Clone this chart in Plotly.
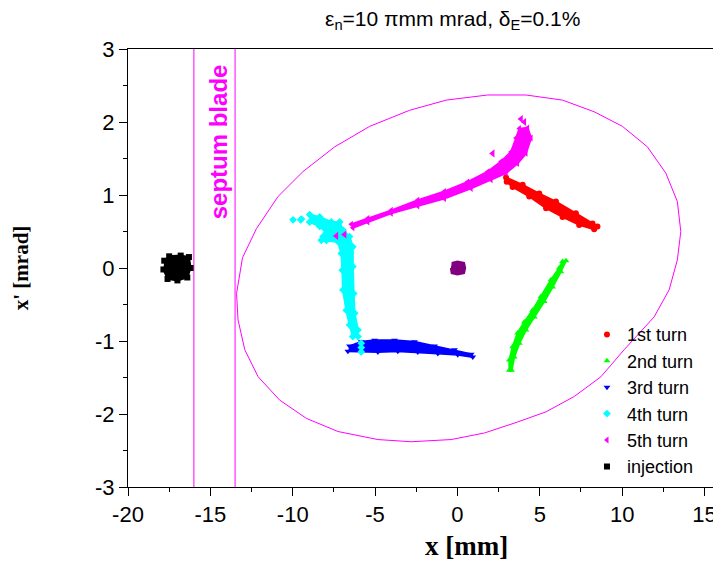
import plotly.graph_objects as go

# ---------------- data ----------------
X_TICKS = [-20, -15, -10, -5, 0, 5, 10, 15]
X_TICK_LABELS = ["-20", "-15", "-10", "-5", "0", "5", "10", "15"]
Y_TICKS = [-3, -2, -1, 0, 1, 2, 3]
Y_TICK_LABELS = ["-3", "-2", "-1", "0", "1", "2", "3"]

SEPTUM_X = [-16.0, -13.5]

# acceptance ellipse vertices (polygon as drawn)
ACCEPT_X = [1.84, 4.16, 6.38, 8.30, 10.02, 11.53, 12.65, 13.35, 13.56, 13.35, 12.85, 11.94,
            10.12, 8.71, 7.09, 5.38, 3.65, 1.64, -0.38, -2.81, -4.83, -7.25, -9.17, -10.79,
            -12.10, -12.91, -13.32, -13.41, -13.05, -12.20, -10.89, -9.38, -7.45, -5.33,
            -2.91, -0.68, 1.84]
ACCEPT_Y = [2.37, 2.37, 2.30, 2.14, 1.94, 1.66, 1.30, 0.91, 0.50, 0.11, -0.30, -0.67,
            -1.12, -1.49, -1.76, -1.97, -2.11, -2.26, -2.35, -2.38, -2.35, -2.24, -2.06, -1.81,
            -1.49, -1.12, -0.71, -0.35, 0.14, 0.54, 0.98, 1.32, 1.66, 1.94,
            2.16, 2.30, 2.37]

# outlines of the particle clouds of each turn
TURN1_X = [2.95, 3.96, 4.97, 5.98, 7.19, 8.20, 8.50, 8.30, 7.39, 6.38, 5.38, 4.36, 3.35, 2.99]
TURN1_Y = [1.24, 1.14, 1.02, 0.91, 0.75, 0.61, 0.57, 0.53, 0.59, 0.70, 0.82, 0.98, 1.11, 1.18]

TURN2_X = [6.59, 6.28, 5.78, 5.27, 4.67, 4.16, 3.76, 3.45, 3.29, 3.15, 3.15, 3.35, 3.65, 4.06,
           4.56, 5.07, 5.68, 6.18, 6.38]
TURN2_Y = [0.10, -0.05, -0.26, -0.46, -0.67, -0.85, -1.03, -1.22, -1.40, -1.40, -1.26, -1.08,
           -0.89, -0.74, -0.58, -0.39, -0.16, 0.00, 0.09]

TURN3_X = [-6.55, -5.84, -5.03, -3.82, -2.61, -1.39, -0.18, 0.83, 0.93, 0.02, -1.19, -2.41,
           -3.62, -4.83, -5.84, -6.65]
TURN3_Y = [-1.07, -1.01, -0.99, -0.99, -1.01, -1.07, -1.12, -1.18, -1.22, -1.19, -1.17, -1.15,
           -1.14, -1.15, -1.15, -1.14]

TURN4_X = [-8.97, -8.36, -7.65, -7.15, -6.95, -6.55, -6.35, -6.35, -6.30, -6.24, -6.04, -6.04,
           -6.35, -6.55, -6.75, -6.95, -6.99, -7.05, -7.25, -7.96, -8.26, -8.16, -7.96, -8.36, -8.97]
TURN4_Y = [0.73, 0.70, 0.63, 0.63, 0.52, 0.43, 0.29, 0.02, -0.35, -0.62, -0.85, -0.94,
           -0.94, -0.78, -0.58, -0.30, -0.03, 0.20, 0.36, 0.38, 0.38, 0.43, 0.48, 0.57, 0.63]
TURN4_STRAY_X = [-9.98, -9.52, -9.47, -5.84, -5.84, -5.84]
TURN4_STRAY_Y = [0.66, 0.66, 0.67, -1.03, -1.09, -1.15]

TURN5_X = [-6.44, -5.44, -4.02, -2.41, -0.79, 0.62, 1.84, 2.65, 3.25, 3.56, 3.76, 4.26, 4.47,
           4.16, 3.65, 2.95, 2.04, 0.83, -0.79, -2.41, -4.02, -5.44, -6.35]
TURN5_Y = [0.60, 0.68, 0.79, 0.93, 1.05, 1.18, 1.32, 1.46, 1.59, 1.78, 1.91, 1.92, 1.78,
           1.57, 1.43, 1.30, 1.21, 1.09, 0.95, 0.85, 0.75, 0.63, 0.55]
TURN5_STRAY_X = [3.86, 4.06, 2.14, -7.35, -6.85]
TURN5_STRAY_Y = [2.04, 2.00, 1.57, 0.44, 0.46]

INJ_X = [-17.80, -17.50, -16.80, -16.30, -16.20, -16.40, -17.00, -17.60, -17.85]
INJ_Y = [0.10, 0.16, 0.17, 0.15, 0.00, -0.13, -0.17, -0.15, -0.02]

CENTER_X = [-0.35, 0.00, 0.40, 0.47, 0.40, 0.00, -0.35, -0.40]
CENTER_Y = [0.07, 0.09, 0.07, 0.00, -0.07, -0.09, -0.07, 0.00]

SERIES = [
    ("1st turn", TURN1_X, TURN1_Y, "#ff0000", "circle"),
    ("2nd turn", TURN2_X, TURN2_Y, "#00ff00", "triangle-up"),
    ("3rd turn", TURN3_X, TURN3_Y, "#0000ff", "triangle-down"),
    ("4th turn", TURN4_X, TURN4_Y, "#00ffff", "diamond"),
    ("5th turn", TURN5_X, TURN5_Y, "#ff00ff", "triangle-left"),
    ("injection", INJ_X, INJ_Y, "#000000", "square"),
]

SANS = "Liberation Sans, Arial, sans-serif"
SERIF = "Liberation Serif, Times New Roman, serif"

fig = go.Figure()

# acceptance ellipse
fig.add_trace(go.Scatter(x=ACCEPT_X, y=ACCEPT_Y, mode="lines",
                         line=dict(color="#ff00ff", width=1), showlegend=False,
                         hoverinfo="skip"))

# septum blade lines
for sx in SEPTUM_X:
    fig.add_trace(go.Scatter(x=[sx, sx], y=[Y_TICKS[0], Y_TICKS[-1]], mode="lines",
                             line=dict(color="#ff00ff", width=1), showlegend=False,
                             hoverinfo="skip"))

# center blob
fig.add_trace(go.Scatter(x=CENTER_X, y=CENTER_Y, mode="lines", fill="toself",
                         fillcolor="#800080", line=dict(color="#800080", width=2),
                         showlegend=False))

# clouds
for name, xs, ys, col, sym in SERIES:
    fig.add_trace(go.Scatter(x=xs, y=ys, mode="lines+markers", fill="toself", fillcolor=col,
                             marker=dict(color=col, symbol=sym, size=6),
                             line=dict(color=col, width=2), showlegend=False, name=name))

fig.add_trace(go.Scatter(x=TURN4_STRAY_X, y=TURN4_STRAY_Y, mode="markers",
                         marker=dict(color="#00ffff", symbol="diamond", size=6),
                         showlegend=False))
fig.add_trace(go.Scatter(x=TURN5_STRAY_X, y=TURN5_STRAY_Y, mode="markers",
                         marker=dict(color="#ff00ff", symbol="triangle-left", size=7),
                         showlegend=False))

# legend entries
for name, xs, ys, col, sym in SERIES:
    fig.add_trace(go.Scatter(x=[None], y=[None], mode="markers", name=name,
                             marker=dict(color=col, symbol=sym, size=6)))

axis_common = dict(showgrid=False, zeroline=False, showline=True, linecolor="black",
                   linewidth=1, ticks="outside", ticklen=8, tickcolor="black",
                   tickfont=dict(family=SANS, size=22, color="black"), automargin=False)

fig.update_xaxes(range=[-20, 16], tickvals=X_TICKS, ticktext=X_TICK_LABELS, mirror=True,
                 minor=dict(tick0=-20, dtick=2.5, ticks="outside", ticklen=4,
                            tickcolor="black"),
                 **axis_common)
fig.update_yaxes(range=[-3, 3], tickvals=Y_TICKS, ticktext=Y_TICK_LABELS,
                 minor=dict(tick0=-3, dtick=0.5, ticks="outside", ticklen=4,
                            tickcolor="black"),
                 **axis_common)

fig.update_layout(
    width=713, height=555,
    margin=dict(l=120, r=0, t=41, b=76),
    plot_bgcolor="white", paper_bgcolor="white",
    legend=dict(x=0.774, y=0.390, xanchor="left", yanchor="top",
                font=dict(family=SANS, size=18, color="black"),
                bgcolor="rgba(0,0,0,0)"),
    annotations=[
        dict(text="ε<sub>n</sub>=10 πmm mrad, δ<sub>E</sub>=0.1%", xref="paper", yref="paper",
             x=0.548, y=1.066, xanchor="center", yanchor="middle", showarrow=False,
             font=dict(family=SANS, size=21, color="black")),
        dict(text="<b>x [mm]</b>", xref="paper", yref="paper", x=0.57, y=-0.1347,
             xanchor="center", yanchor="middle", showarrow=False,
             font=dict(family=SERIF, size=27, color="black")),
        dict(text="<b>x' [mrad]</b>", xref="paper", yref="paper", x=-0.18, y=0.5,
             xanchor="center", yanchor="middle", showarrow=False, textangle=-90,
             font=dict(family=SERIF, size=21, color="black")),
        dict(text="<b>septum blade</b>", xref="x", yref="y", x=-14.5, y=1.73,
             xanchor="center", yanchor="middle", showarrow=False, textangle=-90,
             font=dict(family=SANS, size=24, color="#ff00ff")),
    ],
)

fig.write_html("out.html")
